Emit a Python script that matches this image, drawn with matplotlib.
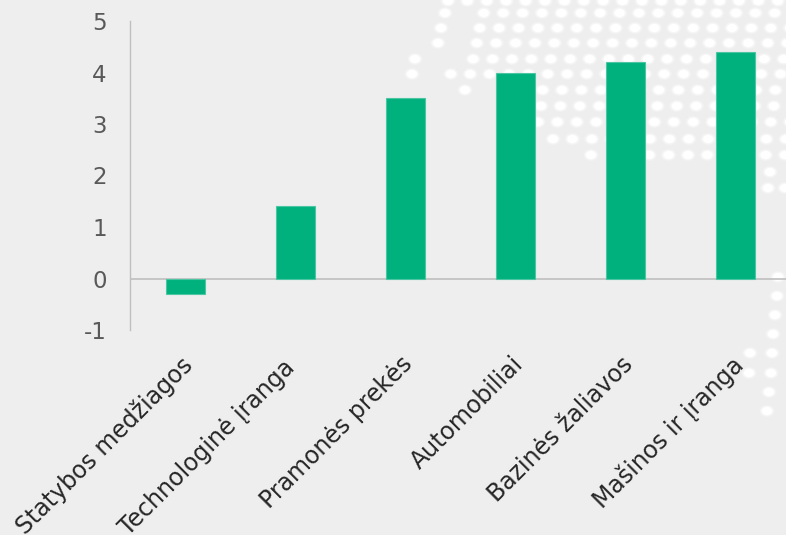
import matplotlib
matplotlib.use("Agg")
import matplotlib.pyplot as plt
from matplotlib.collections import PathCollection
from matplotlib.markers import MarkerStyle
from matplotlib.transforms import Affine2D, IdentityTransform

categories = ["Statybos medžiagos", "Technologinė įranga", "Pramonės prekės",
              "Automobiliai", "Bazinės žaliavos", "Mašinos ir įranga"]
values = [-0.3, 1.4, 3.5, 4.0, 4.2, 4.4]
y_ticks = [-1, 0, 1, 2, 3, 4, 5]

W, H = 786, 535
BG = "#eeeeee"
GREEN = "#00b17d"

# Backdrop dot map: (row y, first x, positions left empty); rows run off the right edge
dot_rows = [
    (1, 448, []), (13, 445, [464]), (28, 441, [460]), (43, 438, [457]),
    (59, 415, [434, 453]), (74, 412, [431]),
    (90, 465, [484, 503, 523]), (106, 541, []), (122, 538, []),
    (139, 553, []), (155, 591, [611, 630]),
]
dot_extra = [(770, 172), (768, 188), (785, 188), (778, 277), (777, 296), (775, 315),
             (773, 334), (750, 353), (772, 353), (749, 373), (771, 373), (769, 392),
             (767, 411)]
DOT_STEP = 19.4

fig = plt.figure(figsize=(W / 100, H / 100), dpi=100, facecolor=BG)
ax = fig.add_axes([130.4 / W, (H - 330) / H, 660.6 / W, 309 / H])
ax.patch.set_alpha(0)

px, py = [], []
for y, x0, gaps in dot_rows:
    x = x0
    while x < W + 10:
        if not any(abs(x - g) < 3 for g in gaps):
            px.append(x)
            py.append(H - y)
        x += DOT_STEP
for x, y in dot_extra:
    px.append(x)
    py.append(H - y)

# Slightly flattened circle for the backdrop dots
circle = MarkerStyle("o")
dot_path = circle.get_path().transformed(circle.get_transform() + Affine2D().scale(1.15, 0.92))


def dot_layer(size, colour, order):
    """Add one layer of backdrop dots in figure pixel coordinates."""
    fig.add_artist(PathCollection(
        [dot_path], sizes=[size], offsets=list(zip(px, py)),
        offset_transform=IdentityTransform(), transform=IdentityTransform(),
        facecolors=colour, edgecolors="none", zorder=order))


# Stacked layers give the dots a soft edge
dot_layer(95, "#f1f1f1", -3)
dot_layer(70, "#f6f6f6", -2)
dot_layer(42, "#ffffff", -1)

xs = list(range(len(categories)))
ax.bar(xs, values, width=39 / 110, color=GREEN, edgecolor="#4cc6a2", linewidth=0.8, zorder=3)

ax.set_xlim(-0.5, 5.5)
ax.set_ylim(-1, 5)
ax.set_yticks(y_ticks)
ax.set_yticklabels([str(v) for v in y_ticks], fontsize=16.5, color="#595959",
                   family="DejaVu Sans")
ax.set_xticks(xs)
ax.set_xticklabels([])

# Slanted category labels, ending just left of each category centre;
# the longest one sits further left and runs past the bottom edge
label_offsets = [(-3.6, -16), (-9.4, -18), (-3.6, -16), (-3.6, -16), (-3.6, -16), (-3.6, -16)]
for i, name, offset in zip(xs, categories, label_offsets):
    ax.annotate(name, xy=(i, 0), xycoords=("data", "axes fraction"),
                xytext=offset, textcoords="offset points",
                rotation=45, ha="right", va="top", rotation_mode="anchor",
                fontsize=17, color="#262626", family="DejaVu Sans",
                annotation_clip=False)

for s in ("top", "right", "bottom"):
    ax.spines[s].set_visible(False)
ax.spines["left"].set_color("#bfbfbf")
ax.spines["left"].set_linewidth(1)
ax.axhline(0, color="#bfbfbf", linewidth=1.2, zorder=2)
ax.tick_params(axis="both", length=0)
ax.tick_params(axis="y", pad=17)

fig.savefig("out.png", dpi=100, facecolor=BG)
